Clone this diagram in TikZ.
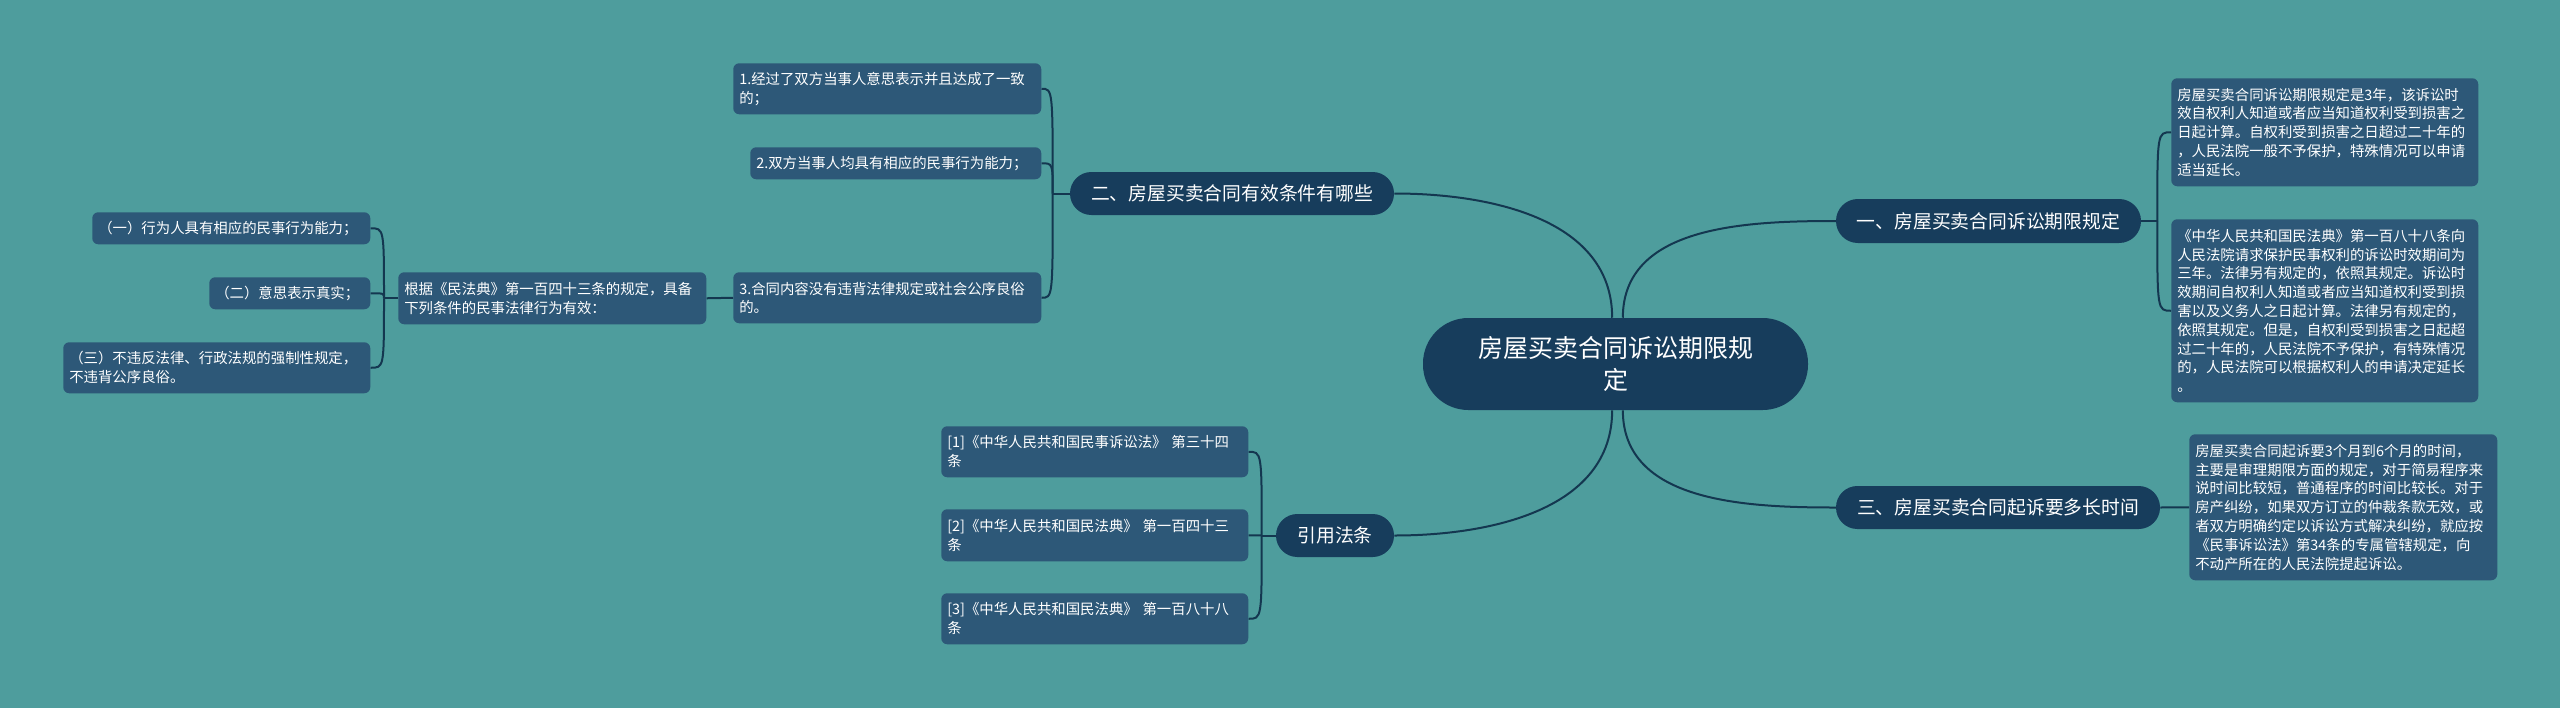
\documentclass[tikz,border=0pt]{standalone}
\usepackage{fontspec}
\setmainfont{Noto Sans CJK SC}
\usetikzlibrary{calc}
\definecolor{bgcol}{RGB}{78,157,157}
\definecolor{maincol}{RGB}{23,61,92}
\definecolor{leafcol}{RGB}{45,88,120}
\definecolor{linecol}{RGB}{20,55,80}
\begin{document}
\begin{tikzpicture}[x=0.75pt,y=-0.75pt,
  leafbox/.style={fill=leafcol, rounded corners=4.5pt, text=white, anchor=north west,
    inner xsep=4.5pt, inner ysep=0pt, align=left, font=\fontsize{10.8}{14.1}\selectfont},
  mainbox/.style={fill=maincol, text=white, inner sep=0pt, align=center,
    font=\fontsize{14.1}{17}\selectfont},
  conn/.style={draw=linecol, line width=1.5pt}]
\useasboundingbox (0,0) rectangle (2560,708);
\fill[bgcol] (0,0) rectangle (2560,708);

% central and main nodes
\node[mainbox, minimum width=288.75pt, minimum height=69pt, rounded corners=34pt,
  text width=230pt, font=\fontsize{18.75}{24}\selectfont] (c) at (1615.5,364)
  {房屋买卖合同诉讼期限规\\定};
\node[mainbox, minimum width=228.75pt, minimum height=33pt, rounded corners=16.4pt] (n1) at (1988.5,221) {一、房屋买卖合同诉讼期限规定};
\node[mainbox, minimum width=243pt, minimum height=32.25pt, rounded corners=16pt] (n3) at (1998,507.5) {三、房屋买卖合同起诉要多长时间};
\node[mainbox, minimum width=243pt, minimum height=32.25pt, rounded corners=16pt] (n2) at (1232,193.5) {二、房屋买卖合同有效条件有哪些};
\node[mainbox, minimum width=88.5pt, minimum height=32.25pt, rounded corners=16pt] (ny) at (1335,535.5) {引用法条};

% right leaves
\node[leafbox, text width=221.25pt, minimum height=81pt] (r1) at (2171,78)
{房屋买卖合同诉讼期限规定是3年，该诉讼时\\效自权利人知道或者应当知道权利受到损害之\\日起计算。自权利受到损害之日超过二十年的\\，人民法院一般不予保护，特殊情况可以申请\\适当延长。};
\node[leafbox, text width=221.25pt, minimum height=137.25pt] (r2) at (2171,219)
{《中华人民共和国民法典》第一百八十八条向\\人民法院请求保护民事权利的诉讼时效期间为\\三年。法律另有规定的，依照其规定。诉讼时\\效期间自权利人知道或者应当知道权利受到损\\害以及义务人之日起计算。法律另有规定的，\\依照其规定。但是，自权利受到损害之日起超\\过二十年的，人民法院不予保护，有特殊情况\\的，人民法院可以根据权利人的申请决定延长\\。};
\node[leafbox, text width=222pt, minimum height=109.5pt] (r3) at (2189,434)
{房屋买卖合同起诉要3个月到6个月的时间，\\主要是审理期限方面的规定，对于简易程序来\\说时间比较短，普通程序的时间比较长。对于\\房产纠纷，如果双方订立的仲裁条款无效，或\\者双方明确约定以诉讼方式解决纠纷，就应按\\《民事诉讼法》第34条的专属管辖规定，向\\不动产所在的人民法院提起诉讼。};

% left branch leaves
\node[leafbox, text width=222pt, minimum height=38.25pt] (c1) at (733,63)
{1.经过了双方当事人意思表示并且达成了一致\\的；};
\node[leafbox, text width=209.25pt, minimum height=24pt] (c2) at (750,147)
{2.双方当事人均具有相应的民事行为能力；};
\node[leafbox, text width=222pt, minimum height=38.25pt] (c3) at (733,272)
{3.合同内容没有违背法律规定或社会公序良俗\\的。};
\node[leafbox, text width=222pt, minimum height=39pt] (g) at (398,272)
{根据《民法典》第一百四十三条的规定，具备\\下列条件的民事法律行为有效：};
\node[leafbox, text width=199.5pt, minimum height=24pt] (s1) at (92,212)
{（一）行为人具有相应的民事行为能力；};
\node[leafbox, text width=111.75pt, minimum height=24pt] (s2) at (209,277)
{（二）意思表示真实；};
\node[leafbox, text width=221.25pt, minimum height=38.25pt] (s3) at (63,342)
{（三）不违反法律、行政法规的强制性规定，\\不违背公序良俗。};

% references
\node[leafbox, text width=221.25pt, minimum height=38.25pt] (f1) at (941,426)
{[1]《中华人民共和国民事诉讼法》 第三十四\\条};
\node[leafbox, text width=221.25pt, minimum height=39pt] (f2) at (941,509)
{[2]《中华人民共和国民法典》 第一百四十三\\条};
\node[leafbox, text width=221.25pt, minimum height=38.25pt] (f3) at (941,593)
{[3]《中华人民共和国民法典》 第一百八十八\\条};

% trunk points
\coordinate (t1) at ($(n1.east)+(16,0)$);
\coordinate (t2) at ($(n2.west)+(-17,0)$);
\coordinate (tg) at ($(g.west)+(-14,0)$);
\coordinate (ty) at ($(ny.west)+(-14,0)$);

% central connectors
\draw[conn] ([xshift=-2.5pt]c.north) to[out=90,in=0] (n2.east);
\draw[conn] ([xshift=5.5pt]c.north) to[out=90,in=180] (n1.west);
\draw[conn] ([xshift=-2.5pt]c.south) to[out=-90,in=0] (ny.east);
\draw[conn] ([xshift=5.5pt]c.south) to[out=-90,in=180] (n3.west);

% branch 1
\draw[conn] (n1.east) -- (t1);
\draw[conn] (t1) .. controls (t1 |- r1.west) .. (r1.west);
\draw[conn] (t1) .. controls (t1 |- r2.west) .. (r2.west);
% branch 3
\draw[conn] (n3.east) -- (r3.west);
% branch 2
\draw[conn] (n2.west) -- (t2);
\draw[conn] (t2) .. controls (t2 |- c1.east) .. (c1.east);
\draw[conn] (t2) .. controls (t2 |- c2.east) .. (c2.east);
\draw[conn] (t2) .. controls (t2 |- c3.east) .. (c3.east);
\draw[conn] (c3.west) -- (g.east);
\draw[conn] (g.west) -- (tg);
\draw[conn] (tg) .. controls (tg |- s1.east) .. (s1.east);
\draw[conn] (tg) .. controls (tg |- s2.east) .. (s2.east);
\draw[conn] (tg) .. controls (tg |- s3.east) .. (s3.east);
% references
\draw[conn] (ny.west) -- (ty);
\draw[conn] (ty) .. controls (ty |- f1.east) .. (f1.east);
\draw[conn] (ty) .. controls (ty |- f2.east) .. (f2.east);
\draw[conn] (ty) .. controls (ty |- f3.east) .. (f3.east);
\end{tikzpicture}
\end{document}
